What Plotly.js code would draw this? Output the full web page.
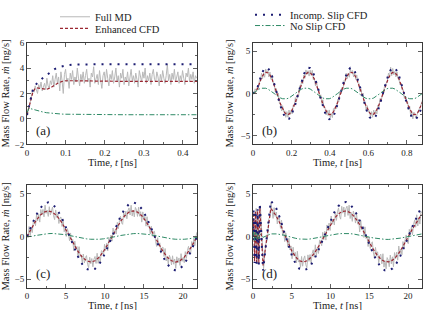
<!DOCTYPE html>
<html>
<head>
<meta charset="utf-8">
<script src="https://cdn.plot.ly/plotly-3.0.1.min.js"></script>
<style>
  html, body { margin: 0; padding: 0; background: #ffffff; }
  #chart { width: 426px; height: 310px; }
</style>
</head>
<body>
<div id="chart"></div>
<script>
// ---------- (a) start-up flow, t in ns ----------
const tA = [0, 0.005, 0.01, 0.015, 0.02, 0.025, 0.03, 0.04, 0.05, 0.06, 0.07, 0.08, 0.09, 0.1, 0.12, 0.15, 0.2, 0.25, 0.3, 0.35, 0.4, 0.436];
const enhancedA = [0.3, 0.9, 1.6, 2.1, 2.35, 2.45, 2.42, 2.35, 2.32, 2.45, 2.65, 2.82, 2.95, 3.0, 3.0, 2.98, 2.96, 2.95, 2.95, 2.95, 2.95, 2.95];
const slipA = [0.3, 1.0, 1.8, 2.3, 2.6, 2.8, 2.95, 3.2, 3.45, 3.7, 3.9, 4.05, 4.15, 4.2, 4.27, 4.3, 4.3, 4.3, 4.3, 4.3, 4.3, 4.3];
const noSlipA = [0.5, 0.85, 0.8, 0.75, 0.7, 0.66, 0.62, 0.55, 0.49, 0.45, 0.42, 0.4, 0.38, 0.37, 0.36, 0.35, 0.34, 0.33, 0.33, 0.33, 0.33, 0.33];
// Full MD, sampled every 0.003 ns
const mdA = [0.4, 0.6, 1.1, 1.4, 1.9, 2.3, 2.1, 2.6, 2.3, 2.0,
  2.7, 2.4, 2.9, 2.2, 2.5, 2.8, 2.3, 3.2, 2.6, 2.4,
  3.0, 2.7, 3.4, 2.5, 3.1, 3.6, 2.8, 3.3, 2.2, 3.7,
  3.0, 2.0, 3.5, 3.9, 2.9, 3.2, 2.4, 3.6, 3.1, 3.8,
  2.7, 3.3, 2.9, 4.0, 3.2, 2.6, 3.5, 3.0, 3.7, 2.8,
  3.4, 3.9, 2.9, 3.2, 2.5, 3.6, 3.3, 4.1, 2.8, 3.1,
  3.5, 2.7, 3.8, 3.0, 2.4, 3.4, 3.7, 2.9, 3.9, 3.2,
  2.6, 3.5, 3.1, 3.8, 2.8, 3.3, 4.0, 2.9, 3.4, 2.5,
  3.6, 3.2, 3.9, 2.7, 3.3, 3.0, 3.7, 2.6, 3.5, 3.9,
  3.0, 3.4, 2.8, 3.6, 3.1, 2.5, 3.8, 3.3, 2.9, 3.7,
  3.2, 4.0, 2.8, 3.4, 3.0, 3.6, 2.7, 3.5, 3.9, 3.1,
  2.9, 3.7, 3.3, 2.6, 3.5, 3.0, 3.8, 3.2, 2.8, 3.4,
  4.3, 3.0, 3.5, 2.7, 3.6, 3.1, 3.9, 2.9, 3.3, 3.7,
  2.8, 3.4, 3.0, 3.8, 3.2, 2.7, 3.6, 3.3, 4.0, 2.9,
  3.5, 3.1, 3.7, 2.8, 3.4, 3.2];

// ---------- (b) fast oscillating flow, CFD every 0.011 ns ----------
const enhancedB = [0, 0.15,
  0.5, 1.23, 1.84, 2.27, 2.48, 2.45, 2.18, 1.69, 1.04, 0.28, -0.5, -1.23, -1.84, -2.27, -2.48, -2.45, -2.18, -1.69, -1.04, -0.28,
  0.5, 1.23, 1.84, 2.27, 2.48, 2.45, 2.18, 1.69, 1.04, 0.28, -0.5, -1.23, -1.84, -2.27, -2.48, -2.45, -2.18, -1.69, -1.04, -0.28,
  0.5, 1.23, 1.84, 2.27, 2.48, 2.45, 2.18, 1.69, 1.04, 0.28, -0.5, -1.23, -1.84, -2.27, -2.48, -2.45, -2.18, -1.69, -1.04, -0.28,
  0.5, 1.23, 1.84, 2.27, 2.48, 2.45, 2.18, 1.69, 1.04, 0.28, -0.5, -1.23, -1.84, -2.27, -2.48, -2.45, -2.18, -1.69, -1.04];
const slipB = [0, 0.2,
  0.61, 1.5, 2.24, 2.77, 3.03, 2.99, 2.66, 2.06, 1.27, 0.34, -0.61, -1.5, -2.24, -2.77, -3.03, -2.99, -2.66, -2.06, -1.27, -0.34,
  0.61, 1.5, 2.24, 2.77, 3.03, 2.99, 2.66, 2.06, 1.27, 0.34, -0.61, -1.5, -2.24, -2.77, -3.03, -2.99, -2.66, -2.06, -1.27, -0.34,
  0.61, 1.5, 2.24, 2.77, 3.03, 2.99, 2.66, 2.06, 1.27, 0.34, -0.61, -1.5, -2.24, -2.77, -3.03, -2.99, -2.66, -2.06, -1.27, -0.34,
  0.61, 1.5, 2.24, 2.77, 3.03, 2.99, 2.66, 2.06, 1.27, 0.34, -0.61, -1.5, -2.24, -2.77, -3.03, -2.99, -2.66, -2.06, -1.27];
const noSlipB = [
  0, 0.2, 0.38, 0.53, 0.62, 0.65, 0.62, 0.53, 0.38, 0.2, 0, -0.2, -0.38, -0.53, -0.62, -0.65, -0.62, -0.53, -0.38, -0.2,
  0, 0.2, 0.38, 0.53, 0.62, 0.65, 0.62, 0.53, 0.38, 0.2, 0, -0.2, -0.38, -0.53, -0.62, -0.65, -0.62, -0.53, -0.38, -0.2,
  0, 0.2, 0.38, 0.53, 0.62, 0.65, 0.62, 0.53, 0.38, 0.2, 0, -0.2, -0.38, -0.53, -0.62, -0.65, -0.62, -0.53, -0.38, -0.2,
  0, 0.2, 0.38, 0.53, 0.62, 0.65, 0.62, 0.53, 0.38, 0.2, 0, -0.2, -0.38, -0.53, -0.62, -0.65, -0.62, -0.53, -0.38, -0.2,
  0];
// Full MD, sampled every 0.0055 ns
const mdB = [0.0, -0.05, 0.55, 0.30, 0.70, 0.43, 1.53, 1.36, 2.39, 1.74,
  2.38, 1.91, 2.89, 2.40, 2.70, 1.94, 2.53, 1.66, 2.19, 1.23,
  1.24, 0.22, 0.58, -0.31, 0.05, -1.23, -1.13, -2.06, -1.44, -2.19,
  -2.03, -2.81, -2.14, -2.80, -1.95, -2.49, -1.98, -2.41, -1.39, -1.58,
  -0.49, -1.02, -0.18, -0.39, 0.90, 0.78, 1.48, 1.16, 2.19, 1.79,
  2.78, 2.26, 2.69, 2.05, 2.75, 2.14, 2.73, 1.61, 1.79, 0.88,
  1.44, 0.57, 0.53, -0.51, -0.15, -1.18, -0.73, -1.71, -1.64, -2.54,
  -1.98, -2.61, -1.94, -2.85, -2.35, -2.84, -1.78, -2.06, -1.44, -1.78,
  -0.69, -0.97, 0.22, -0.04, 0.70, 0.43, 1.53, 1.36, 2.39, 1.74,
  2.38, 1.91, 2.89, 2.40, 2.70, 1.94, 2.53, 1.66, 2.19, 1.23,
  1.24, 0.22, 0.58, -0.31, 0.05, -1.23, -1.13, -2.06, -1.44, -2.19,
  -2.03, -2.81, -2.14, -2.80, -1.95, -2.49, -1.98, -2.41, -1.39, -1.58,
  -0.6, -0.9, -0.3, -0.2, 0.7, 0.95, 1.3, 1.55, 2.4, 1.9,
  3.1, 2.1, 2.95, 2.2, 2.6, 1.95, 2.55, 1.75, 1.6, 1.0,
  1.2, 0.4, 0.45, -0.6, -0.3, -1.0, -0.95, -1.9, -1.5, -2.7,
  -2.1, -3.0, -2.2, -2.6, -2.9, -2.5, -2.0, -1.8, -1.6, -1.1,
  -0.8];

// ---------- (c) slow oscillating flow, CFD every 0.545 ns ----------
const enhancedC = [0, 0.93, 1.76, 2.43, 2.85, 3.0, 2.85, 2.43, 1.76, 0.93, 0, -0.93, -1.76, -2.43, -2.85, -3.0, -2.85, -2.43, -1.76, -0.93,
  0, 0.93, 1.76, 2.43, 2.85, 3.0, 2.85, 2.43, 1.76, 0.93, 0, -0.93, -1.76, -2.43, -2.85, -3.0, -2.85, -2.43, -1.76, -0.93, 0];
const slipC = [0, 1.24, 2.35, 3.24, 3.8, 4.0, 3.8, 3.24, 2.35, 1.24, 0, -1.24, -2.35, -3.24, -3.8, -4.0, -3.8, -3.24, -2.35, -1.24,
  0, 1.24, 2.35, 3.24, 3.8, 4.0, 3.8, 3.24, 2.35, 1.24, 0, -1.24, -2.35, -3.24, -3.8, -4.0, -3.8, -3.24, -2.35, -1.24, 0];
const noSlipC = [0, 0, 0.11, 0.21, 0.28, 0.33, 0.35, 0.33, 0.28, 0.21, 0.11, 0, -0.11, -0.21, -0.28, -0.33, -0.35, -0.33, -0.28, -0.21,
  -0.11, 0, 0.11, 0.21, 0.28, 0.33, 0.35, 0.33, 0.28, 0.21, 0.11, 0, -0.11, -0.21, -0.28, -0.33, -0.35, -0.33, -0.28, -0.21, -0.11];
// Full MD, sampled every 0.13625 ns
const mdC = [0.0, -0.16, 1.17, 0.10, 1.03, 0.45, 1.81, 1.77, 1.26, 2.60,
  1.82, 2.63, 1.68, 3.16, 2.52, 3.17, 2.30, 3.67, 2.71, 3.09,
  2.35, 3.49, 2.51, 3.22, 3.45, 2.42, 1.97, 3.11, 2.23, 2.68,
  1.52, 2.20, 2.26, 1.17, 2.06, 0.55, 1.03, 0.0, 0.92, 0.44,
  -0.5, 0.41, -0.77, -0.35, -1.68, -0.55, -1.51, -1.17, -2.31, -1.20,
  -2.37, -2.18, -3.08, -2.06, -3.12, -2.47, -2.25, -3.27, -3.66, -2.44,
  -3.20, -2.59, -3.56, -2.67, -2.35, -3.17, -1.97, -3.16, -2.33, -2.98,
  -1.67, -1.75, -2.26, -0.92, -1.66, -0.80, -1.68, -0.10, -0.62, 0.16,
  -0.55, 0.99, 0.22, 0.80, 0.28, 1.65, 0.91, 1.87, 2.36, 1.60,
  1.42, 2.83, 2.23, 2.96, 2.07, 3.02, 3.35, 2.52, 3.66, 2.39,
  3.10, 2.29, 3.41, 3.12, 2.35, 3.42, 2.37, 2.91, 1.68, 2.88,
  1.97, 2.35, 1.21, 2.32, 1.11, 1.25, 0.28, 1.20, 0.02, 0.54,
  0.60, -0.59, -1.17, -0.15, -1.13, -0.75, -1.96, -1.32, -1.26, -2.35,
  -1.42, -2.88, -2.33, -3.26, -2.22, -2.57, -3.35, -2.27, -3.26, -2.64,
  -3.75, -2.39, -3.11, -2.52, -3.40, -2.02, -2.92, -2.46, -3.08, -1.78,
  -2.57, -1.65, -1.16, -1.92, -2.06, -0.60, -1.13, -0.30, -1.07, 0.01,
  0.50];

// ---------- (d) slow oscillation after a fast start, t in ns ----------
const tD = [0, 0.08, 0.2, 0.33, 0.46, 0.6, 0.75, 0.88, 1.3, 2.3,
  3.0, 3.5, 4.0, 4.5, 5.0, 5.5, 6.0, 6.5, 7.0, 7.5,
  8.0, 8.5, 9.0, 9.5, 10.0, 10.5, 11.0, 11.5, 12.0, 12.5,
  13.0, 13.5, 14.0, 14.5, 15.0, 15.5, 16.0, 16.5, 17.0, 17.5,
  18.0, 18.5, 19.0, 19.5, 20.0, 20.5, 21.0, 21.5, 21.8];
const enhancedD = [0, 2.8, -2.9, 2.9, -3.0, 3.0, -3.1, 3.3, -3.4, 3.3,
  2.4, 1.5, 0.4, -0.7, -1.7, -2.4, -2.85, -3.0, -2.84, -2.44,
  -1.85, -1.10, -0.26, 0.60, 1.41, 2.11, 2.62, 2.93, 2.99, 2.81,
  2.39, 1.78, 1.02, 0.17, -0.68, -1.49, -2.17, -2.67, -2.95, -2.98,
  -2.78, -2.34, -1.71, -0.94, -0.09, 0.77, 1.57, 2.23, 2.54];
const slipD = [0, 3.2, -3.1, 3.0, -3.2, 3.2, -3.3, 3.9, -4.0, 4.2,
  3.3, 2.1, 0.6, -0.9, -2.2, -3.2, -3.8, -4.0, -3.8, -3.3,
  -2.5, -1.48, -0.35, 0.81, 1.9, 2.85, 3.54, 3.96, 4.04, 3.79,
  3.23, 2.4, 1.38, 0.23, -0.92, -2.01, -2.93, -3.6, -3.98, -4.02,
  -3.75, -3.16, -2.31, -1.27, -0.12, 1.04, 2.12, 3.01, 3.43];
const noSlipD = [0, 0.6, -0.5, 0.5, -0.4, 0.4, -0.3, 0.3, -0.1, 0.3,
  0.3, 0.25, 0.15, 0.02, -0.12, -0.22, -0.3, -0.34, -0.33, -0.28,
  -0.22, -0.13, -0.03, 0.07, 0.16, 0.25, 0.31, 0.34, 0.35, 0.33,
  0.28, 0.21, 0.12, 0.02, -0.08, -0.17, -0.25, -0.31, -0.34, -0.35,
  -0.32, -0.27, -0.2, -0.11, -0.01, 0.09, 0.18, 0.26, 0.3];
// Full MD, sampled every 0.13625 ns
const mdD = [0.0, 2.1, -1.5, 3.3, -3.2, 2.0, -2.4, 3.6, 1.2, -1.8,
  -3.8, -2.4, -0.9, -0.6, 0.1, 2.1, 2.2, 3.97, 2.70, 2.12,
  3.38, 2.35, 2.86, 1.47, 2.20, 2.25, 0.95, 1.92, 0.12, 0.63,
  -0.60, 0.43, -0.16, -1.27, -0.22, -1.59, -1.11, -2.62, -1.26, -2.31,
  -1.87, -3.11, -1.74, -3.01, -2.73, -3.64, -2.35, -3.49, -2.64, -2.28,
  -3.33, -3.67, -2.16, -2.92, -2.12, -3.14, -2.01, -1.57, -2.44, -0.98,
  -2.29, -1.27, -1.99, -0.44, -0.51, -1.09, 0.48, -0.39, 0.60, -0.43,
  1.35, 0.72, 1.57, 0.70, 2.40, 1.44, 2.04, 1.34, 2.84, 1.89,
  2.89, 3.35, 2.36, 2.03, 3.54, 2.73, 3.45, 2.31, 3.28, 3.55,
  2.47, 3.67, 2.10, 2.81, 1.77, 2.97, 2.53, 1.57, 2.73, 1.44,
  2.00, 0.53, 1.87, 0.79, 1.20, -0.12, 1.13, -0.25, -0.08, -1.18,
  -0.08, -1.41, -0.76, -0.64, -1.94, -2.54, -1.29, -2.32, -1.80, -3.10,
  -2.25, -2.08, -3.22, -2.03, -3.60, -2.84, -3.80, -2.48, -2.76, -3.55,
  -2.18, -3.21, -2.39, -3.55, -1.89, -2.62, -1.84, -2.78, -1.12, -2.08,
  -1.48, -2.14, -0.60, -1.48, -0.39, 0.18, -0.67, -0.85, 0.83, 0.20,
  1.12, 0.20, 1.40, 1.91, 1.08, 2.54, 1.23, 2.21, 1.45, 2.93,
  2.77];

const panelLabels = ['(a)', '(b)', '(c)', '(d)'];
const seriesNames = ['Full MD', 'Enhanced CFD', 'Incomp. Slip CFD', 'No Slip CFD'];

// ---------- styling ----------
const SERIF = 'Liberation Serif, Times New Roman, serif';
const COL_MD = '#b8b8b8';
const COL_ENH = '#9a2631';
const COL_SLIP = '#1c1c72';
const COL_NOSLIP = '#2f8a66';

function styleFor(kind) {
  if (kind === 0) return { color: COL_MD, width: 1 };
  if (kind === 1) return { color: COL_ENH, width: 1.2, dash: '3px,2px' };
  if (kind === 2) return { color: COL_SLIP, width: 2, dash: '2px,6px' };
  return { color: COL_NOSLIP, width: 1, dash: '5px,2px,1.5px,2px' };
}

const traces = [];
function add(panel, kind, y, xs) {
  const suffix = panel === 1 ? '' : String(panel);
  const t = {
    type: 'scatter', mode: 'lines', y: y,
    xaxis: 'x' + suffix, yaxis: 'y' + suffix,
    name: seriesNames[kind],
    line: styleFor(kind),
    showlegend: panel === 1,
    legend: kind === 0 ? 'legend' : 'legend' + (kind + 1),
    hoverinfo: 'skip'
  };
  if (Array.isArray(xs)) t.x = xs; else { t.x0 = 0; t.dx = xs; }
  traces.push(t);
}

// panel (a)
add(1, 0, mdA, 0.003);
add(1, 1, enhancedA, tA);
add(1, 2, slipA, tA);
add(1, 3, noSlipA, tA);
// panel (b)
add(2, 0, mdB, 0.0055);
add(2, 1, enhancedB, 0.011);
add(2, 2, slipB, 0.011);
add(2, 3, noSlipB, 0.011);
// panel (c)
add(3, 0, mdC, 0.13625);
add(3, 1, enhancedC, 0.545);
add(3, 2, slipC, 0.545);
add(3, 3, noSlipC, 0.545);
// panel (d)
add(4, 0, mdD, 0.13625);
add(4, 1, enhancedD, tD);
add(4, 2, slipD, tD);
add(4, 3, noSlipD, tD);

const W = 426, H = 310;
const colX = [[27, 197], [253, 422]];
const rowY = [[35.5, 140], [182, 287]];
const dom = (p) => [p[0] / W, p[1] / W];
const domY = (p) => [1 - p[1] / H, 1 - p[0] / H];

function minorTicks(step) {
  return { ticks: 'inside', ticklen: 2, tickwidth: 0.8, tickcolor: '#3a3a3a', showgrid: false, dtick: step };
}
function axis(extra) {
  return Object.assign({
    showline: true, linecolor: '#3a3a3a', linewidth: 1, mirror: 'allticks',
    ticks: 'inside', ticklen: 4, tickwidth: 0.8, tickcolor: '#3a3a3a',
    showgrid: false, zeroline: false,
    tickfont: { family: SERIF, size: 9, color: '#222' }
  }, extra);
}
const titleFont = { family: SERIF, size: 10.5, color: '#222' };
const yTitle = { text: 'Mass Flow Rate, <i>ṁ</i> [ng/s]', font: titleFont, standoff: 4 };

const layout = {
  width: W, height: H,
  margin: { l: 0, r: 0, t: 0, b: 0 },
  paper_bgcolor: '#ffffff', plot_bgcolor: '#ffffff',
  font: { family: SERIF, color: '#222' },
  xaxis: axis({ domain: dom(colX[0]), anchor: 'y', range: [0, 0.436], dtick: 0.1, minor: minorTicks(0.05) }),
  yaxis: axis({ domain: domY(rowY[0]), anchor: 'x', range: [-2, 6], dtick: 2, minor: minorTicks(1), title: yTitle }),
  xaxis2: axis({ domain: dom(colX[1]), anchor: 'y2', range: [0, 0.878], dtick: 0.2, minor: minorTicks(0.1) }),
  yaxis2: axis({ domain: domY(rowY[0]), anchor: 'x2', range: [-6, 6], dtick: 5, minor: minorTicks(2.5), title: yTitle }),
  xaxis3: axis({ domain: dom(colX[0]), anchor: 'y3', range: [0, 21.8], dtick: 5, minor: minorTicks(2.5) }),
  yaxis3: axis({ domain: domY(rowY[1]), anchor: 'x3', range: [-6, 6], dtick: 5, minor: minorTicks(2.5), title: yTitle }),
  xaxis4: axis({ domain: dom(colX[1]), anchor: 'y4', range: [0, 21.8], dtick: 5, minor: minorTicks(2.5) }),
  yaxis4: axis({ domain: domY(rowY[1]), anchor: 'x4', range: [-6, 6], dtick: 5, minor: minorTicks(2.5), title: yTitle }),
  annotations: []
};

// panel tags in the lower-left corner and the time-axis captions under each panel
const captionY = [158.5, 158.5, 305.5, 305.5];
panelLabels.forEach((lab, i) => {
  const s = i === 0 ? '' : String(i + 1);
  layout.annotations.push({
    text: lab, xref: 'x' + s + ' domain', yref: 'y' + s + ' domain',
    x: 0.095, y: 0.14, xanchor: 'center', yanchor: 'middle', showarrow: false,
    font: { family: SERIF, size: 13, color: '#222' }
  });
  layout.annotations.push({
    text: 'Time, <i>t</i> [ns]', xref: 'x' + s + ' domain', yref: 'paper',
    x: 0.5, y: 1 - captionY[i] / H, xanchor: 'center', yanchor: 'middle', showarrow: false,
    font: titleFont
  });
});

// four single-entry legends laid out as two columns above the panels
const legendFont = { family: SERIF, size: 10.5, color: '#222' };
const legendPos = [[55, 9], [55, 21], [250, 7], [250, 18]];
['legend', 'legend2', 'legend3', 'legend4'].forEach((key, i) => {
  layout[key] = {
    x: legendPos[i][0] / W, y: 1 - legendPos[i][1] / H,
    xanchor: 'left', yanchor: 'middle',
    bgcolor: 'rgba(0,0,0,0)', borderwidth: 0, font: legendFont,
    itemwidth: 30, tracegroupgap: 0
  };
});

Plotly.newPlot('chart', traces, layout, { staticPlot: true, displayModeBar: false });
</script>
</body>
</html>
